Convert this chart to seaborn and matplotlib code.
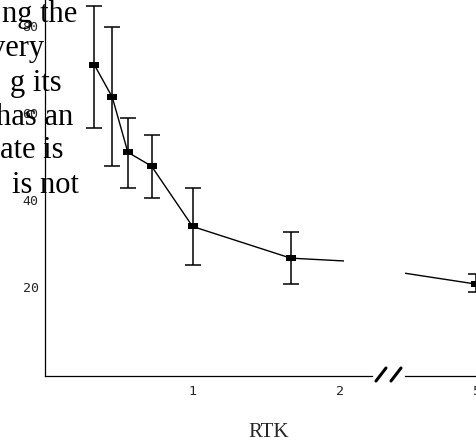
import numpy as np
import seaborn as sns
import matplotlib.pyplot as plt
from matplotlib.lines import Line2D
from matplotlib.transforms import Bbox, TransformedBbox, blended_transform_factory

# 数据
rtk = np.array([0.333, 0.454, 0.56, 0.721, 1.0, 1.667, 5.0])
mean = np.array([71.1, 63.7, 51.0, 47.8, 33.9, 26.6, 20.6])
upper = np.array([84.8, 79.8, 58.8, 54.9, 42.7, 32.7, 22.9])
lower = np.array([56.7, 47.8, 42.8, 40.5, 25.0, 20.6, 18.8])

y_ticks = [0, 20, 40, 60, 80]
y_labels = ["", "20", "40", "60", "80"]
x_ticks_left = [1, 2]
x_ticks_right = [5]

# 页面正文的残留文字
para = [("ng the", 77, 22), ("very", 44, 56), ("g its", 61.5, 91),
        ("has an", 73, 125), ("ate is", 63.5, 158), ("is not", 78.5, 193)]

sns.set_style("white")
plt.rcParams['font.family'] = ['DejaVu Sans Mono']

W, H = 477, 443
fig = plt.figure(figsize=(W / 100, H / 100), dpi=100)
bottom = (H - 375.7) / H
height = 375.7 / H
ax1 = fig.add_axes([45.5 / W, bottom, (372 - 45.5) / W, height])
ax2 = fig.add_axes([405 / W, bottom, 71.5 / W, height])

rect = [(-1, -0.6), (1, -0.6), (1, 0.6), (-1, 0.6), (-1, -0.6)]
yerr = [mean - lower, upper - mean]

for ax in (ax1, ax2):
    ax.set_facecolor('none')
    sns.lineplot(x=rtk, y=mean, ax=ax, color='black', linewidth=1.0,
                 marker=rect, markersize=7.5, markeredgewidth=0,
                 markerfacecolor='black', estimator=None, sort=False)
    ax.errorbar(rtk, mean, yerr=yerr, fmt='none', ecolor='black',
                elinewidth=1.1, capsize=6, capthick=1.1)
    ax.set_ylim(-0.5, 86.1)
    for s in ['top', 'right']:
        ax.spines[s].set_visible(False)
    ax.spines['bottom'].set_linewidth(0.9)
    ax.spines['bottom'].set_color('black')
    ax.tick_params(axis='x', direction='in', length=7, width=0.9,
                   color='black', pad=7, labelsize=9.5)

# 左半部分
ax1.set_xlim(0, 2.22)
ax1.set_xticks(x_ticks_left)
ax1.set_xticklabels([str(t) for t in x_ticks_left])
ax1.set_yticks(y_ticks)
ax1.set_yticklabels(y_labels)
ax1.spines['left'].set_linewidth(0.9)
ax1.spines['left'].set_color('black')
ax1.tick_params(axis='y', direction='in', length=11.5, width=0.9,
                color='black', pad=5, labelsize=9.5)
clip = TransformedBbox(Bbox([[0, 0], [2.03, 1]]),
                       blended_transform_factory(ax1.transData, ax1.transAxes))
ax1.lines[0].set_clip_box(clip)
ax1.set_xlabel("RTK", family='Liberation Serif', fontsize=15)
ax1.xaxis.set_label_coords((269 - 45.5) / 326.5, -0.126)

# 右半部分
ax2.set_xlim(3.6, 5.0)
ax2.set_xticks(x_ticks_right)
ax2.set_xticklabels([str(t) for t in x_ticks_right])
ax2.spines['left'].set_visible(False)
ax2.set_yticks([])

# 断轴符号
for x0 in (376, 391):
    fig.add_artist(Line2D([x0 / W, (x0 + 10) / W], [1 - 381 / H, 1 - 368 / H],
                          transform=fig.transFigure, color='black', linewidth=2.2))

for s, xe, yb in para:
    fig.text(xe / W, 1 - yb / H, s, ha='right', va='baseline',
             fontsize=22, family='Liberation Serif', color='black')

fig.savefig("out.png", dpi=100)
